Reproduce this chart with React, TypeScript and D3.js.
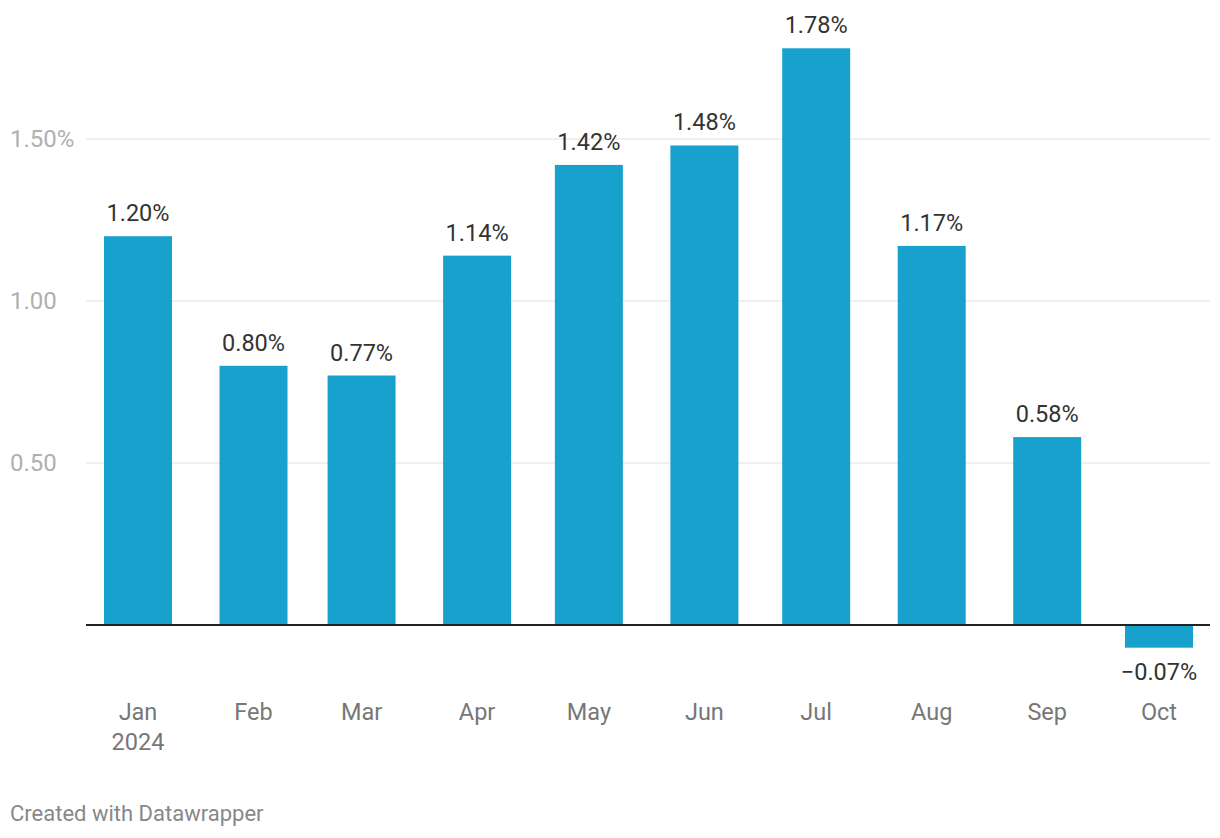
import React from "react";
import * as d3 from "d3";

const months = ["2024-01-01","2024-02-01","2024-03-01","2024-04-01","2024-05-01","2024-06-01","2024-07-01","2024-08-01","2024-09-01","2024-10-01"];
const monthLabels = ["Jan","Feb","Mar","Apr","May","Jun","Jul","Aug","Sep","Oct"];
const values = [1.20, 0.80, 0.77, 1.14, 1.42, 1.48, 1.78, 1.17, 0.58, -0.07];
const yTicks = [0.5, 1.0, 1.5];
const yTickLabels = ["0.50", "1.00", "1.50%"];

export default function App() {
  const W = 1220, H = 838;
  const parse = d3.utcParse("%Y-%m-%d");
  const dates = months.map((m) => parse(m) as Date);
  const x = d3.scaleUtc().domain([dates[0], dates[dates.length - 1]]).range([138, 1159]);
  const y = d3.scaleLinear().domain([0, 1.5]).range([625, 139]);
  const bw = 68;
  const font = "Roboto, sans-serif";
  const fmt = (v: number) => (v < 0 ? "\u2212" : "") + Math.abs(v).toFixed(2) + "%";
  return (
    <svg width={W} height={H} style={{ position: "absolute", left: 0, top: 0, background: "#fff" }} fontFamily={font}>
      {yTicks.map((t, i) => (
        <g key={t}>
          <line x1={86} x2={1210} y1={y(t)} y2={y(t)} stroke="#e0e0e0" strokeWidth={1} />
          <text x={10} y={y(t) + 8} fontSize={24} fill="#b0b0b0">{yTickLabels[i]}</text>
        </g>
      ))}
      {values.map((v, i) => {
        const cx = x(dates[i]);
        const top = Math.min(y(v), y(0));
        const h = Math.abs(y(v) - y(0));
        return (
          <g key={i}>
            <rect x={cx - bw / 2} y={top} width={bw} height={h} fill="#18a1cd" />
            <text x={cx} y={v >= 0 ? y(v) - 15 : y(v) + 32} textAnchor="middle" fontSize={23.5} fill="#333333">{fmt(v)}</text>
            <text x={cx} y={720} textAnchor="middle" fontSize={23.5} fill="#777777">{monthLabels[i]}</text>
            {i === 0 && <text x={cx} y={750} textAnchor="middle" fontSize={23.5} fill="#777777">2024</text>}
          </g>
        );
      })}
      <line x1={86} x2={1210} y1={y(0)} y2={y(0)} stroke="#222222" strokeWidth={2} />
      <text x={10} y={821} fontSize={22} fill="#888888">Created with Datawrapper</text>
    </svg>
  );
}
